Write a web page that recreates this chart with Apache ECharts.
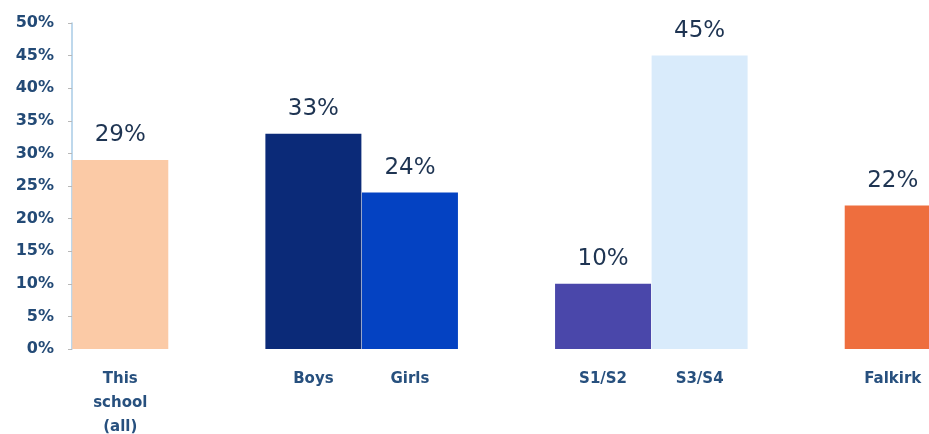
<!DOCTYPE html>
<html>
<head>
<meta charset="utf-8">
<script src="https://cdn.jsdelivr.net/npm/echarts@6/dist/echarts.min.js"></script>
<style>
  html, body { margin: 0; padding: 0; background: #ffffff; }
  #chart { width: 929px; height: 434px; }
</style>
</head>
<body>
<div id="chart"></div>
<script>
// Groups are separated by blank category slots
const categories = ['This\nschool\n(all)', '', 'Boys', 'Girls', '', 'S1/S2', 'S3/S4', '', 'Falkirk'];
const percentages = [29, null, 33, 24, null, 10, 45, null, 22];
const barColors = ['#fbcaa6', null, '#0b2a78', '#0442c2', null, '#4a47aa', '#d9ebfb', null, '#ee6e3e'];
const yTicks = [0, 5, 10, 15, 20, 25, 30, 35, 40, 45, 50];

const chart = echarts.init(document.getElementById('chart'), null, { renderer: 'canvas' });

const seriesData = percentages.map((v, i) => (
  v === null ? '-' : { value: v, itemStyle: { color: barColors[i] } }
));

chart.setOption({
  animation: false,
  backgroundColor: '#ffffff',
  // the plot runs past the right edge, so the last bar is cut off
  grid: { left: 72, top: 23, width: 869, height: 326, containLabel: false, outerBoundsMode: 'none' },
  xAxis: {
    type: 'category',
    data: categories,
    axisLine: { show: false },
    axisTick: { show: false },
    axisLabel: {
      interval: 0,
      color: '#27507e',
      fontFamily: 'DejaVu Sans',
      fontSize: 15,
      fontWeight: 'bold',
      lineHeight: 24,
      margin: 18
    }
  },
  yAxis: {
    type: 'value',
    min: yTicks[0],
    max: yTicks[yTicks.length - 1],
    interval: 5,
    axisLine: { show: true, lineStyle: { color: '#a9cbe6', width: 1.5 } },
    axisTick: { show: true, length: 4, inside: false, lineStyle: { color: '#b8b8b8' } },
    splitLine: { show: false },
    axisLabel: {
      formatter: v => v + '%',
      color: '#234a76',
      fontFamily: 'DejaVu Sans',
      fontSize: 16,
      fontWeight: 'bold',
      margin: 18
    }
  },
  series: [{
    type: 'bar',
    data: seriesData,
    barWidth: 96,
    label: {
      show: true,
      position: 'top',
      distance: 13,
      formatter: p => p.value + '%',
      color: '#1e3452',
      fontFamily: 'DejaVu Sans',
      fontSize: 23
    }
  }]
});
</script>
</body>
</html>
